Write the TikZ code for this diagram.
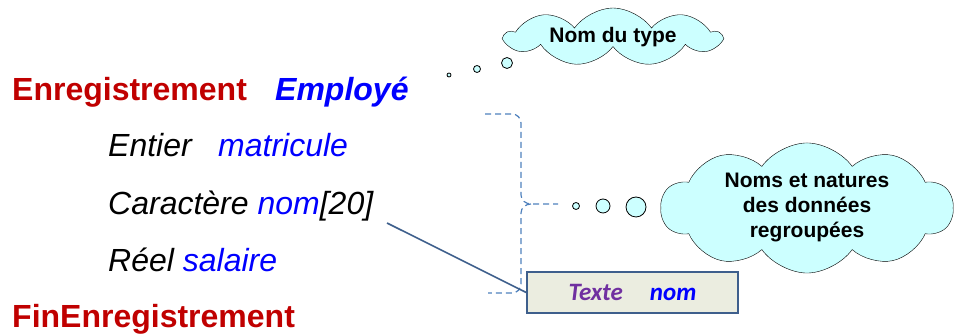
\documentclass[tikz,border=0pt]{standalone}
\usepackage{fontspec}
\setmainfont{Liberation Sans}
\newfontfamily\calib{Carlito}
\usetikzlibrary{shapes.symbols}

\definecolor{cor_red}{HTML}{C00000}
\definecolor{cor_blue}{HTML}{0000FF}
\definecolor{cor_dash}{HTML}{4F81BD}
\definecolor{cor_line}{HTML}{3E5F8C}
\definecolor{cor_box}{HTML}{EBEDE0}
\definecolor{cor_cloud}{HTML}{CCFFFF}
\definecolor{cor_purple}{HTML}{7030A0}

\begin{document}
\begin{tikzpicture}[x=1pt,y=1pt]
        \tikzset{
            mot/.style={
                anchor=base west,
                inner sep=0pt,
                font=\fontsize{32}{38}\selectfont#1
            },
            nuage/.style={
                cloud,
                cloud ignores aspect,
                draw=black,
                fill=cor_cloud,
                cloud puffs=#1,
                cloud puff arc=110,
                inner sep=0pt,
                align=center,
                font=\bfseries
            },
            bulle/.style={
                draw=black,
                fill=cor_cloud,
                line width=0.8pt
            },
            accol/.style={
                draw=cor_dash,
                dashed,
                dash pattern=on 6pt off 4pt,
                line width=1.2pt
            }
        }
        \useasboundingbox (0,0) rectangle (955,336);

        % l'enregistrement
        \node[mot=\bfseries, text=cor_red] (enreg) at (12,235) {Enregistrement};
        \node[mot=\bfseries\itshape, text=cor_blue] (employe) at (275,235) {Employé};
        \node[mot=\itshape] (entier) at (108,179) {Entier};
        \node[mot=\itshape, text=cor_blue] (matricule) at (218,179) {matricule};
        \node[mot=\itshape] (caract) at (108,121) {Caractère {\color{cor_blue}nom}[20]};
        \node[mot=\itshape] (reel) at (108,64) {Réel {\color{cor_blue}salaire}};
        \node[mot=\bfseries, text=cor_red] (fin) at (12,8) {FinEnregistrement};

        % les nuages
        \node[nuage=9, minimum width=215pt, minimum height=58pt,
              font=\bfseries\fontsize{21}{25}\selectfont] (type) at (613,299) {Nom du type};
        \node[nuage=10, minimum width=292pt, minimum height=118pt,
              font=\bfseries\fontsize{21}{25}\selectfont] (donnees) at (807,128)
              {Noms et natures\\des données\\regroupées};

        \foreach \x/\y/\r in {449/261/2, 477/267/3.5, 507/273/5.5} { % bulles haut
            \draw[bulle] (\x,\y) circle (\r);
        }
        \foreach \x/\y/\r in {576/130/3.5, 603/130/7, 636/129/10} { % bulles milieu
            \draw[bulle] (\x,\y) circle (\r);
        }

        % accolade
        \draw[accol] (485,222) -- (512,222) to[out=0,in=90] (521,213) -- (521,141)
            to[out=-90,in=180] (531,132) -- (558,132);
        \draw[accol] (531,132) to[out=180,in=90] (521,123) -- (521,52)
            to[out=-90,in=0] (512,43) -- (488,43);

        % la boite
        \node[draw=cor_line, fill=cor_box, line width=1.6pt, minimum width=211pt,
              minimum height=41pt, font=\calib\bfseries\itshape\fontsize{25}{29}\selectfont]
              (boite) at (632.5,43.5) {\color{cor_purple}Texte\hspace{27pt}\color{cor_blue}nom};

        \coordinate (queue) at (387,113);
        \draw[cor_line, line width=1.6pt] (queue) -- (boite.west);

    \end{tikzpicture}
\end{document}
